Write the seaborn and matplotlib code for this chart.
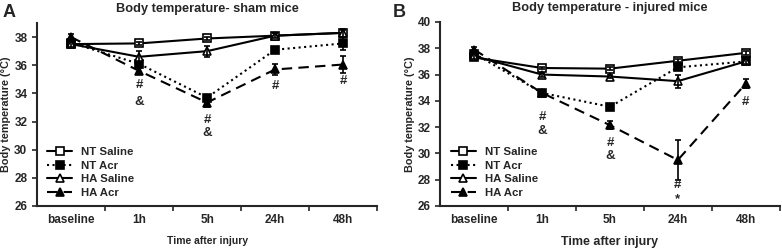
import numpy as np
import pandas as pd
import matplotlib
matplotlib.use('Agg')
import matplotlib.pyplot as plt
import seaborn as sns

sns.set_style('ticks')
plt.rcParams['font.family'] = ['Liberation Sans', 'DejaVu Sans']
plt.rcParams['font.weight'] = 'bold'

timepoints = ['baseline', '1h', '5h', '24h', '48h']
groups = ['NT Saline', 'NT Acr', 'HA Saline', 'HA Acr']

# sham mice (panel A)
sham_mean = {
    'NT Saline': [37.5, 37.55, 37.9, 38.1, 38.3],
    'NT Acr':    [37.6, 36.1, 33.7, 37.1, 37.55],
    'HA Saline': [37.5, 36.6, 37.0, 38.1, 38.3],
    'HA Acr':    [38.0, 35.6, 33.35, 35.7, 36.05],
}
sham_err = {
    'NT Saline': [0.2, 0.1, 0.1, 0.2, 0.2],
    'NT Acr':    [0.2, 0.2, 0.2, 0.2, 0.5],
    'HA Saline': [0.2, 0.4, 0.4, 0.2, 0.3],
    'HA Acr':    [0.2, 0.2, 0.3, 0.4, 0.6],
}
# injured mice (panel B)
inj_mean = {
    'NT Saline': [37.3, 36.5, 36.45, 37.05, 37.65],
    'NT Acr':    [37.6, 34.6, 33.55, 36.55, 37.0],
    'HA Saline': [37.4, 36.0, 35.85, 35.5, 37.0],
    'HA Acr':    [37.9, 34.6, 32.15, 29.5, 35.3],
}
inj_err = {
    'NT Saline': [0.2, 0.1, 0.1, 0.1, 0.15],
    'NT Acr':    [0.2, 0.1, 0.1, 0.2, 0.2],
    'HA Saline': [0.2, 0.15, 0.1, 0.5, 0.2],
    'HA Acr':    [0.2, 0.1, 0.3, 1.5, 0.35],
}

# significance marks: (time index, y, text)
sham_marks = [(1, 34.6, '#'), (1, 33.4, '&'), (2, 32.1, '#'), (2, 31.2, '&'),
              (3, 34.5, '#'), (4, 34.85, '#')]
inj_marks = [(1, 32.8, '#'), (1, 31.7, '&'), (2, 30.8, '#'), (2, 29.8, '&'),
             (3, 27.6, '#'), (3, 26.5, '*'), (4, 33.9, '#')]

styles = {
    'NT Saline': dict(marker='s', markerfacecolor='white', linestyle='-'),
    'NT Acr':    dict(marker='s', markerfacecolor='black', linestyle=':'),
    'HA Saline': dict(marker='^', markerfacecolor='white', linestyle='-'),
    'HA Acr':    dict(marker='^', markerfacecolor='black', linestyle=(0, (5, 3))),
}

fig = plt.figure(figsize=(7.82, 2.5), dpi=100)
axA = fig.add_axes([0.0473, 0.176, 0.435, 0.732])
axB = fig.add_axes([0.563, 0.176, 0.434, 0.736])


def draw(ax, means, errs, marks, title, ylim, yticks, xlabel_size):
    x = np.arange(len(timepoints))
    for g in groups:
        df = pd.DataFrame({'t': x, 'temp': means[g]})
        sns.lineplot(data=df, x='t', y='temp', ax=ax, color='black', lw=1.5,
                     markersize=6, markeredgecolor='black', markeredgewidth=1.2,
                     label=g, **styles[g])
        ax.errorbar(x, means[g], yerr=errs[g], fmt='none', ecolor='black',
                    elinewidth=1.2, capsize=2.5, capthick=1.2)
    for i, y, s in marks:
        ax.text(i, y, s, ha='center', va='center', fontsize=9.5, fontweight='bold')
    ax.set_xlim(-0.5, 4.5)
    ax.set_ylim(*ylim)
    ax.set_yticks(yticks)
    ax.set_xticks([0.5, 1.5, 2.5, 3.5, 4.5])
    ax.set_xticklabels([])
    ax.set_xticks(x, minor=True)
    ax.set_xticklabels(timepoints, minor=True, fontsize=8.5, fontweight='bold')
    ax.tick_params(axis='x', which='minor', length=0, pad=6)
    ax.tick_params(axis='both', which='major', length=3.5, width=1.2, labelsize=8.5)
    for lbl in ax.get_yticklabels():
        lbl.set_fontweight('bold')
    sns.despine(ax=ax)
    for sp in ['left', 'bottom']:
        ax.spines[sp].set_linewidth(1.5)
    ax.set_title(title, fontsize=9.2, fontweight='bold', pad=8)
    ax.set_xlabel('Time after injury', fontsize=xlabel_size, fontweight='bold', labelpad=7)
    ax.set_ylabel('Body temperature (°C)', fontsize=7.8, fontweight='bold', labelpad=2)
    ax.legend(loc='lower left', bbox_to_anchor=(0.0, -0.01), frameon=False,
              handlelength=2.2, handletextpad=0.8, labelspacing=0.3,
              prop={'weight': 'bold', 'size': 8.2})


draw(axA, sham_mean, sham_err, sham_marks, 'Body temperature- sham mice',
     (26, 39), [26, 28, 30, 32, 34, 36, 38], 7.5)
draw(axB, inj_mean, inj_err, inj_marks, 'Body temperature - injured mice',
     (26, 40), [26, 28, 30, 32, 34, 36, 38, 40], 9)

fig.text(0.003, 0.985, 'A', fontsize=13, fontweight='bold', va='top', ha='left')
fig.text(0.502, 0.985, 'B', fontsize=13, fontweight='bold', va='top', ha='left')

fig.savefig('out.png', dpi=100)
